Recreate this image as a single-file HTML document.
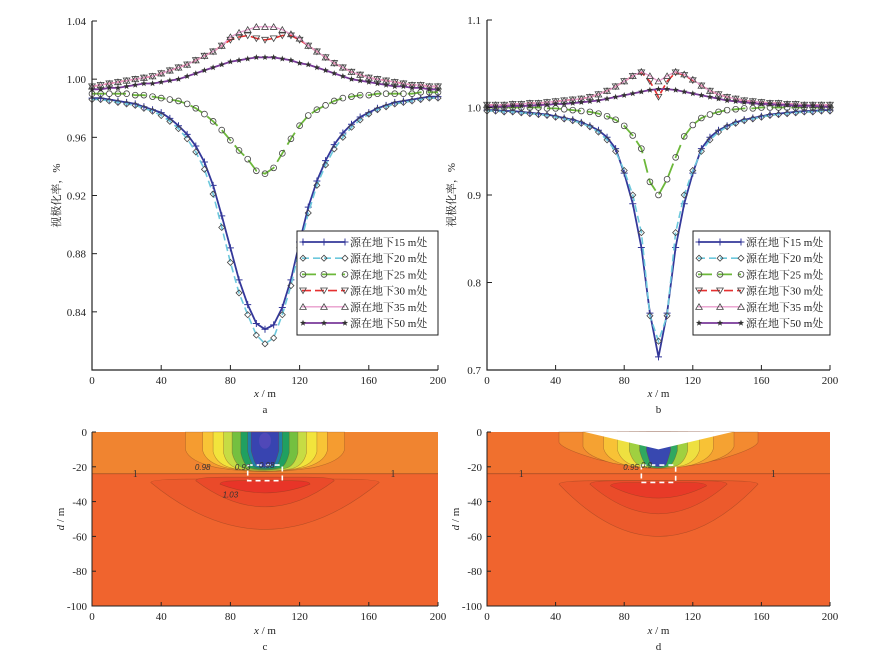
<!DOCTYPE html>
<html><head><meta charset="utf-8"><style>
body{margin:0;background:#fff;}
svg{display:block;font-family:"Liberation Serif","Noto Serif CJK SC",serif;}
</style></head><body>
<svg id="fig" width="874" height="655" viewBox="0 0 874 655" xmlns="http://www.w3.org/2000/svg"></svg>
<script>
// ---- data (x = 0..200 step 5) ----
const xCats = [];
for (let i = 0; i <= 40; i++) xCats.push(i * 5);
const seriesNames = ['源在地下15 m处','源在地下20 m处','源在地下25 m处','源在地下30 m处','源在地下35 m处','源在地下50 m处'];
const aS15 = [0.987,0.987,0.986,0.985,0.984,0.983,0.981,0.979,0.977,0.973,0.968,0.962,0.954,0.943,0.927,0.906,0.884,0.862,0.845,0.832,0.828,0.831,0.843,0.862,0.888,0.912,0.930,0.944,0.955,0.963,0.969,0.974,0.977,0.980,0.982,0.984,0.985,0.986,0.987,0.988,0.988];
const aS20 = [0.986,0.986,0.985,0.984,0.983,0.982,0.980,0.978,0.975,0.971,0.966,0.959,0.950,0.938,0.921,0.898,0.874,0.853,0.838,0.824,0.818,0.822,0.838,0.858,0.884,0.908,0.927,0.941,0.952,0.960,0.967,0.972,0.976,0.979,0.981,0.983,0.984,0.985,0.986,0.987,0.987];
const aS25 = [0.990,0.990,0.990,0.990,0.990,0.989,0.989,0.988,0.987,0.986,0.985,0.983,0.980,0.976,0.971,0.965,0.958,0.951,0.945,0.937,0.935,0.939,0.949,0.959,0.968,0.975,0.979,0.982,0.985,0.987,0.988,0.989,0.989,0.990,0.990,0.990,0.990,0.990,0.991,0.991,0.991];
const aS30 = [0.995,0.996,0.997,0.998,0.999,1.000,1.001,1.002,1.004,1.006,1.008,1.010,1.013,1.016,1.019,1.023,1.027,1.029,1.030,1.028,1.027,1.028,1.030,1.030,1.027,1.023,1.019,1.015,1.011,1.008,1.005,1.003,1.001,1.000,0.999,0.998,0.997,0.996,0.996,0.995,0.995];
const aS35 = [0.995,0.996,0.997,0.998,0.999,1.000,1.001,1.002,1.004,1.006,1.008,1.010,1.013,1.016,1.019,1.023,1.029,1.032,1.034,1.036,1.036,1.036,1.034,1.031,1.028,1.023,1.019,1.015,1.011,1.008,1.005,1.003,1.001,1.000,0.999,0.998,0.997,0.996,0.996,0.995,0.995];
const aS50 = [0.993,0.993,0.994,0.994,0.995,0.996,0.997,0.997,0.998,0.999,1.000,1.002,1.004,1.006,1.008,1.010,1.012,1.013,1.014,1.015,1.015,1.015,1.014,1.013,1.011,1.010,1.008,1.006,1.004,1.002,1.000,0.999,0.998,0.997,0.996,0.995,0.995,0.994,0.994,0.993,0.993];
const bS15 = [0.997,0.997,0.996,0.996,0.995,0.994,0.993,0.992,0.990,0.988,0.986,0.983,0.979,0.974,0.966,0.953,0.925,0.890,0.840,0.765,0.715,0.765,0.840,0.890,0.925,0.953,0.966,0.974,0.979,0.983,0.986,0.988,0.990,0.992,0.993,0.994,0.995,0.996,0.996,0.997,0.997];
const bS20 = [0.996,0.996,0.995,0.995,0.994,0.993,0.992,0.991,0.989,0.987,0.985,0.982,0.978,0.972,0.963,0.950,0.928,0.900,0.857,0.762,0.733,0.762,0.857,0.900,0.928,0.950,0.963,0.972,0.978,0.982,0.985,0.987,0.989,0.991,0.992,0.993,0.994,0.995,0.995,0.996,0.996];
const bS25 = [1.000,1.000,1.000,1.000,1.000,1.000,1.000,0.999,0.999,0.998,0.997,0.996,0.995,0.993,0.990,0.986,0.979,0.968,0.953,0.915,0.900,0.918,0.943,0.967,0.980,0.988,0.992,0.995,0.997,0.998,0.999,0.999,1.000,1.000,1.000,1.000,1.000,1.000,1.000,1.000,1.000];
const bS30 = [1.003,1.003,1.003,1.004,1.004,1.005,1.005,1.006,1.007,1.008,1.009,1.010,1.012,1.015,1.019,1.024,1.030,1.036,1.040,1.030,1.012,1.030,1.040,1.037,1.031,1.025,1.019,1.015,1.012,1.010,1.008,1.007,1.006,1.005,1.005,1.004,1.004,1.003,1.003,1.003,1.003];
const bS35 = [1.003,1.003,1.003,1.004,1.004,1.005,1.005,1.006,1.007,1.008,1.009,1.010,1.012,1.015,1.019,1.024,1.030,1.036,1.041,1.036,1.030,1.036,1.041,1.038,1.032,1.025,1.019,1.015,1.012,1.010,1.008,1.007,1.006,1.005,1.005,1.004,1.004,1.003,1.003,1.003,1.003];
const bS50 = [1.001,1.001,1.001,1.002,1.002,1.002,1.003,1.003,1.004,1.004,1.005,1.006,1.007,1.008,1.010,1.012,1.014,1.016,1.018,1.020,1.021,1.021,1.020,1.018,1.016,1.014,1.012,1.010,1.008,1.007,1.006,1.005,1.004,1.004,1.003,1.003,1.002,1.002,1.002,1.001,1.001];
const aYTicks = [0.84,0.88,0.92,0.96,1.00,1.04];
const aYLabels = ['0.84','0.88','0.92','0.96','1.00','1.04'];
const bYTicks = [0.7,0.8,0.9,1.0,1.1];
const bYLabels = ['0.7','0.8','0.9','1.0','1.1'];
const xTicks = [0,40,80,120,160,200];
const dTicks = [0,-20,-40,-60,-80,-100];

const NS = 'http://www.w3.org/2000/svg';
const svg = document.getElementById('fig');
function el(tag, attrs, parent, text){
  const e = document.createElementNS(NS, tag);
  for (const k in attrs) e.setAttribute(k, attrs[k]);
  if (text !== undefined) e.textContent = text;
  (parent || svg).appendChild(e);
  return e;
}
const styles = [
  {line:'#34389a', w:1.8, dash:'', mk:'plus'},
  {line:'#6cc8dc', w:1.6, dash:'7,4', mk:'diamond'},
  {line:'#6cb83a', w:1.8, dash:'14,6', mk:'circle'},
  {line:'#e53030', w:1.6, dash:'9,4', mk:'tridown'},
  {line:'#e89ccc', w:1.3, dash:'', mk:'triup'},
  {line:'#7a3a9a', w:1.8, dash:'', mk:'star'}
];
function marker(g, type, x, y){
  const c = '#444';
  let m;
  if (type==='plus') m = el('path',{d:`M${x-3.5},${y}h7M${x},${y-3.5}v7`,stroke:'#34389a','stroke-width':1},g);
  else if (type==='diamond') m = el('path',{d:`M${x},${y-3}l3,3l-3,3l-3,-3z`,fill:'none',stroke:c,'stroke-width':0.8},g);
  else if (type==='circle') m = el('circle',{cx:x,cy:y,r:2.9,fill:'none',stroke:c,'stroke-width':0.8},g);
  else if (type==='tridown') m = el('path',{d:`M${x-3.3},${y-2.6}h6.6l-3.3,5.6z`,fill:'none',stroke:c,'stroke-width':0.8},g);
  else if (type==='triup') m = el('path',{d:`M${x-3.3},${y+2.6}h6.6l-3.3,-5.6z`,fill:'none',stroke:c,'stroke-width':0.8},g);
  else {
    let p='';
    for(let i=0;i<10;i++){const r=i%2?1.4:3.3;const a=-Math.PI/2+i*Math.PI/5;p+=(i?'L':'M')+(x+r*Math.cos(a)).toFixed(1)+','+(y+r*Math.sin(a)).toFixed(1);}
    m = el('path',{d:p+'Z',fill:'#333'},g);
  }
  
  
}
function linePanel(id, x0, x1, yTop, yBot, ymin, ymax, yTicks, yLabels, series, letter, legX){
  const g = el('g',{});
  
  
  const sx = v => x0 + (v/200)*(x1-x0);
  const sy = v => yBot - (v-ymin)/(ymax-ymin)*(yBot-yTop);
  series.forEach((arr, si) => {
    const st = styles[si];
    const sg = el('g',{},g);
    
    
    const d = arr.map((v,i)=>(i?'L':'M')+sx(xCats[i]).toFixed(1)+','+sy(v).toFixed(1)).join('');
    el('path',{d:d,fill:'none',stroke:st.line,'stroke-width':st.w,'stroke-dasharray':st.dash},sg);
    arr.forEach((v,i)=>marker(sg, st.mk, sx(xCats[i]), sy(v)));
  });
  const ax = el('path',{d:`M${x0},${yTop}V${yBot}H${x1}`,fill:'none',stroke:'#222','stroke-width':1.2},g);
  
  
  yTicks.forEach((t,i)=>{
    const y = sy(t);
    el('line',{x1:x0,x2:x0+5,y1:y,y2:y,stroke:'#222','stroke-width':1},g);
    const tx = el('text',{x:x0-6,y:y+4,'text-anchor':'end','font-size':11,fill:'#222'},g,yLabels[i]);
    
    
  });
  xTicks.forEach(t=>{
    const x = sx(t);
    el('line',{x1:x,x2:x,y1:yBot,y2:yBot-5,stroke:'#222','stroke-width':1},g);
    const tx = el('text',{x:x,y:yBot+14,'text-anchor':'middle','font-size':11,fill:'#222'},g,String(t));
    
    
  });
  const xt = el('text',{x:(x0+x1)/2,y:yBot+27,'text-anchor':'middle','font-size':11,fill:'#222'},g);
  xt.innerHTML = '<tspan font-style="italic">x</tspan> / m';
  
  
  const yt = el('text',{x:0,y:0,transform:`translate(${x0-32},${(yTop+yBot)/2}) rotate(-90)`,'text-anchor':'middle','font-size':11,fill:'#222'},g,'视极化率，%');
  
  
  const lt = el('text',{x:(x0+x1)/2,y:yBot+43,'text-anchor':'middle','font-size':11,fill:'#222'},g,letter);
  
  
  const lg = el('g',{},g);
  
  
  el('rect',{x:legX,y:231,width:x1-legX,height:104,fill:'#fff',stroke:'#222','stroke-width':1},lg);
  seriesNames.forEach((n,i)=>{
    const y = 242 + i*16.2;
    const st = styles[i];
    const eg = el('g',{},lg);
    
    
    el('line',{x1:legX+5,x2:legX+48,y1:y,y2:y,stroke:st.line,'stroke-width':st.w,'stroke-dasharray':st.dash},eg);
    [legX+6,legX+27,legX+48].forEach(mx=>marker(eg, st.mk, mx, y));
    el('text',{x:legX+53,y:y+4,'font-size':11,fill:'#222'},eg,n);
  });
}
linePanel('a',92,438,21,370,0.80,1.04,aYTicks,aYLabels,[aS15,aS20,aS25,aS30,aS35,aS50],'a',297);
linePanel('b',487,830,20,370,0.70,1.10,bYTicks,bYLabels,[bS15,bS20,bS25,bS30,bS35,bS50],'b',693);

function contourPanel(id, x0, x1, letter, variant){
  const yTop = 432, yBot = 606;
  const sx = v => x0 + (v/200)*(x1-x0);
  const sy = d => yTop + (-d/100)*(yBot-yTop);
  const P = (x,d) => sx(x).toFixed(1)+','+sy(d).toFixed(1);
  const g = el('g',{});
  
  
  el('rect',{x:x0,y:yTop,width:x1-x0,height:yBot-yTop,fill:'#f0642e'},g);
  el('rect',{x:x0,y:yTop,width:x1-x0,height:sy(-24)-yTop,fill:variant?'#f0702e':'#f08430'},g);
  const line = 'rgba(120,60,30,0.45)';
  function band(fill, hl, hr, dSide, dMid){
    const l = 100-hl, r = 100+hr;
    el('path',{d:`M${P(l,0)}L${P(l,-dSide*0.6)}Q${P(l+2,-dSide)} ${P(l+hl*0.4,-(dSide+dMid)/2)}Q${P(100,-dMid-1)} ${P(r-hr*0.4,-(dSide+dMid)/2)}Q${P(r-2,-dSide)} ${P(r,-dSide*0.6)}L${P(r,0)}Z`,fill:fill,stroke:line,'stroke-width':0.6},g);
  }
  function lower(fill, hw, dTop, dBot){
    el('path',{d:`M${P(100-hw,-dTop-2)}Q${P(100-hw,-dTop)} ${P(100-hw*0.6,-dTop)}L${P(100+hw*0.6,-dTop)}Q${P(100+hw,-dTop)} ${P(100+hw,-dTop-2)}Q${P(100+hw*0.5,-dBot)} ${P(100,-dBot)}Q${P(100-hw*0.5,-dBot)} ${P(100-hw,-dTop-2)}Z`,fill:fill,stroke:line,'stroke-width':0.6},g);
  }
  if (!variant){
    band('#f59c30',46,46,17,24);
    band('#f8c436',36,36,18,23.5);
    band('#f2e43c',30,30,19,23);
    band('#c6dc44',24,24,20,22.5);
    band('#74c040',19,19,20,22);
    band('#20a060',14,14,20,21.5);
    band('#2080a8',10,10,19,21);
    band('#3844b0',8,8,18,20);
    el('ellipse',{cx:sx(100),cy:sy(-5),rx:6,ry:8,fill:'#5048b8'},g);
    lower('#ec5a2c',66,27,56);
    lower('#ea4a2a',40,26,43);
    lower('#e83428',26,28,35);
  } else {
    band('#f38a30',58,58,10,22);
    band('#f5a232',44,44,14,22);
    band('#f8c236',32,32,16,22);
    band('#eee040',24,24,17,21.5);
    band('#a0d040',17,17,18,21);
    band('#30a860',11,11,18,21);
    band('#3848b0',7,7,18,20);
    const wd = el('path',{d:`M${P(57,0)}L${P(100,-10)}L${P(143,0)}Z`,fill:'#fff'},g);
    
    
    lower('#ec5a2c',58,28,60);
    lower('#ea4c2a',40,28,47);
    lower('#e83a28',28,29,38);
  }
  el('line',{x1:x0,x2:x1,y1:sy(-24),y2:sy(-24),stroke:'rgba(110,50,30,0.6)','stroke-width':0.8},g);
  const rect = el('rect',{x:sx(90),y:sy(-19),width:sx(110)-sx(90),height:sy(variant?-29:-28)-sy(-19),fill:'none',stroke:'#fff','stroke-width':1.6,'stroke-dasharray':'5,4'},g);
  
  
  const labels = variant ? [[20,-24,'1'],[167,-24,'1'],[84,-20,'0.95'],[93,-19,'0.9']] : [[25,-24,'1'],[174,-24,'1'],[64,-20,'0.98'],[87,-20,'0.93'],[101,-19,'0.98'],[80,-36,'1.03']];
  labels.forEach(l=>{
    const t = el('text',{x:sx(l[0]),y:sy(l[1])+3,'text-anchor':'middle','font-size':l[2]==='1'?10:8,fill:'#333','font-family':l[2]==='1'?'Liberation Serif':'Liberation Sans','font-style':l[2]==='1'?'normal':'italic'},g,l[2]);
    
    
  });
  el('path',{d:`M${x0},${yTop}V${yBot}H${x1}`,fill:'none',stroke:'#222','stroke-width':1},g);
  dTicks.forEach(t=>{
    const y = sy(t);
    el('line',{x1:x0,x2:x0+4,y1:y,y2:y,stroke:'#222'},g);
    const tx = el('text',{x:x0-5,y:y+4,'text-anchor':'end','font-size':11,fill:'#222'},g,String(t));
    
    
  });
  xTicks.forEach(t=>{
    const x = sx(t);
    el('line',{x1:x,x2:x,y1:yBot,y2:yBot-4,stroke:'#222'},g);
    const tx = el('text',{x:x,y:yBot+14,'text-anchor':'middle','font-size':11,fill:'#222'},g,String(t));
    
    
  });
  const xt = el('text',{x:(x0+x1)/2,y:yBot+28,'text-anchor':'middle','font-size':11,fill:'#222'},g);
  xt.innerHTML = '<tspan font-style="italic">x</tspan> / m';
  
  
  const yt = el('text',{x:0,y:0,transform:`translate(${x0-28},${(yTop+yBot)/2}) rotate(-90)`,'text-anchor':'middle','font-size':11,fill:'#222'},g);
  yt.innerHTML = '<tspan font-style="italic">d</tspan> / m';
  
  
  const lt = el('text',{x:(x0+x1)/2,y:yBot+44,'text-anchor':'middle','font-size':11,fill:'#222'},g,letter);
  
  
}
contourPanel('c',92,438,'c',false);
contourPanel('d',487,830,'d',true);
</script>
</body></html>
